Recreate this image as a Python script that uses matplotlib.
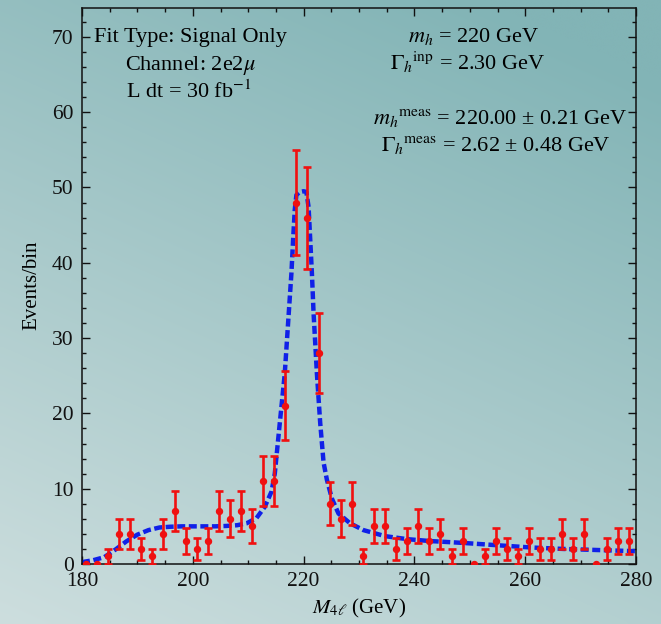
import numpy as np
import matplotlib
matplotlib.use("Agg")
import matplotlib.pyplot as plt
from matplotlib.ticker import MultipleLocator

plt.rcParams['font.family'] = ['Liberation Serif', 'DejaVu Serif']
plt.rcParams['mathtext.fontset'] = 'stix'

# ---- data ----
bin_centers = [180.7, 182.7, 184.7, 186.7, 188.7, 190.7, 192.7, 194.7, 196.7, 198.7,
               200.7, 202.7, 204.7, 206.7, 208.7, 210.7, 212.7, 214.7, 216.7, 218.7,
               220.7, 222.7, 224.7, 226.7, 228.7, 230.7, 232.7, 234.7, 236.7, 238.7,
               240.7, 242.7, 244.7, 246.7, 248.7, 250.7, 252.7, 254.7, 256.7, 258.7,
               260.7, 262.7, 264.7, 266.7, 268.7, 270.7, 272.7, 274.7, 276.7, 278.7]
counts = [0, 0, 1, 4, 4, 2, 1, 4, 7, 3,
          2, 3, 7, 6, 7, 5, 11, 11, 21, 48,
          46, 28, 8, 6, 8, 1, 5, 5, 2, 3,
          5, 3, 4, 1, 3, 0, 1, 3, 2, 1,
          3, 2, 2, 4, 2, 4, 0, 2, 3, 3]
errors = [0, 0, 1.0, 2.0, 2.0, 1.41, 1.0, 2.0, 2.65, 1.73,
          1.41, 1.73, 2.65, 2.45, 2.65, 2.24, 3.32, 3.32, 4.58, 6.93,
          6.78, 5.29, 2.83, 2.45, 2.83, 1.0, 2.24, 2.24, 1.41, 1.73,
          2.24, 1.73, 2.0, 1.0, 1.73, 0, 1.0, 1.73, 1.41, 1.0,
          1.73, 1.41, 1.41, 2.0, 1.41, 2.0, 0, 1.41, 1.73, 1.73]

fit_x = [180, 182, 184, 186, 188, 190, 192, 194, 196, 198, 200, 202, 204, 206, 208,
         209.7, 211.5, 213.0, 214.2, 214.8, 215.7, 216.6, 217.4, 217.8, 218.1, 218.4,
         218.7, 219.3, 220.0, 220.5, 220.9, 221.2, 221.5, 221.8, 222.4, 223.0, 223.6,
         224.2, 225.1, 226.3, 228.4, 230.8, 234.7, 238.7, 242.8, 248.8, 254.8, 260.9,
         266.9, 272.9, 280]
fit_y = [0.25, 0.5, 0.9, 1.9, 3.0, 3.9, 4.5, 4.85, 4.95, 5.0, 5.0, 5.0, 5.0, 5.05, 5.15,
         5.4, 6.1, 7.6, 9.6, 12.0, 18.7, 25.3, 34.2, 38.6, 43.0, 47.0,
         49.0, 49.4, 49.5, 49.4, 47.4, 43.0, 38.6, 33.3, 25.3, 18.7, 13.5,
         11.2, 8.7, 6.7, 5.4, 4.5, 3.7, 3.3, 3.05, 2.8, 2.5, 2.2,
         2.0, 1.86, 1.7]

x_ticks = [180, 200, 220, 240, 260, 280]
y_ticks = [0, 10, 20, 30, 40, 50, 60, 70]

W, H = 661, 624
fig = plt.figure(figsize=(W / 100, H / 100), dpi=100)

# background gradient (marble-like teal)
bg = fig.add_axes([0, 0, 1, 1], zorder=-10)
u = np.linspace(0, 1, 200)[None, :]
v = np.linspace(1, 0, 200)[:, None]
t = np.clip(0.35 * u + 0.75 * v, 0, 1)
light = np.array([205, 222, 222]) / 255.0
dark = np.array([130, 180, 182]) / 255.0
img = light[None, None, :] * (1 - t[..., None]) + dark[None, None, :] * t[..., None]
bg.imshow(img, aspect='auto', extent=[0, 1, 0, 1], interpolation='bicubic')
bg.set_axis_off()

ax = fig.add_axes([82 / W, 1 - 564 / H, (636 - 82) / W, (564 - 7.5) / H])
ax.set_facecolor('none')

bc = np.array(bin_centers)
cnt = np.array(counts, dtype=float)
err = np.array(errors)
pos = cnt > 0

ax.plot(fit_x, fit_y, color='#1020e8', lw=3.2, linestyle=(0, (1.8, 0.8)),
        solid_capstyle='butt', dash_capstyle='butt', zorder=2)

ax.errorbar(bc[pos], cnt[pos], yerr=err[pos], fmt='o', color='#f01010',
            ms=4.3, elinewidth=1.9, capsize=3.0, capthick=1.9, zorder=3)
ax.plot(bc[~pos], cnt[~pos], 'o', color='#f01010', ms=4.3, zorder=3)

ax.set_xlim(180, 280)
ax.set_ylim(0, 73.9)
ax.set_xticks(x_ticks)
ax.set_yticks(y_ticks)
ax.xaxis.set_minor_locator(MultipleLocator(5))
ax.yaxis.set_minor_locator(MultipleLocator(2))
ax.tick_params(which='both', direction='in', top=True, right=True, labelsize=15.5,
               colors='#111111')
ax.tick_params(which='major', length=5.5, width=1.0, pad=6)
ax.tick_params(which='minor', length=3, width=1.0)
for s in ax.spines.values():
    s.set_linewidth(1.1)
    s.set_color('#111111')

ax.set_xlabel(r'$M_{4\ell}$ (GeV)', fontsize=15, labelpad=4)
ax.set_ylabel('Events/bin', fontsize=15, labelpad=8)

fs = 16
def px(xp, yp):
    return ((xp - 82) / (636 - 82), (564 - yp) / (564 - 7.5))

ax.text(*px(94, 42), 'Fit Type: Signal Only', fontsize=fs, ha='left', va='baseline',
        transform=ax.transAxes)
ax.text(*px(125, 70), r'Channel: 2e2$\mu$', fontsize=fs, ha='left', va='baseline',
        transform=ax.transAxes)
ax.text(*px(126, 98), r'L dt = 30 fb$^{-1}$', fontsize=fs, ha='left', va='baseline',
        transform=ax.transAxes)
ax.text(*px(474, 42), r'$m_h$ = 220 GeV', fontsize=fs, ha='center', va='baseline',
        transform=ax.transAxes)
ax.text(*px(468, 70), r'$\Gamma_h{}^{\rm inp}$ = 2.30 GeV', fontsize=fs, ha='center',
        va='baseline', transform=ax.transAxes)
ax.text(*px(500, 124), r'$m_h{}^{\rm meas}$ = 220.00 ± 0.21 GeV', fontsize=fs,
        ha='center', va='baseline', transform=ax.transAxes)
ax.text(*px(496, 151), r'$\Gamma_h{}^{\rm meas}$ = 2.62 ± 0.48 GeV', fontsize=fs,
        ha='center', va='baseline', transform=ax.transAxes)

fig.savefig('out.png', dpi=100)
